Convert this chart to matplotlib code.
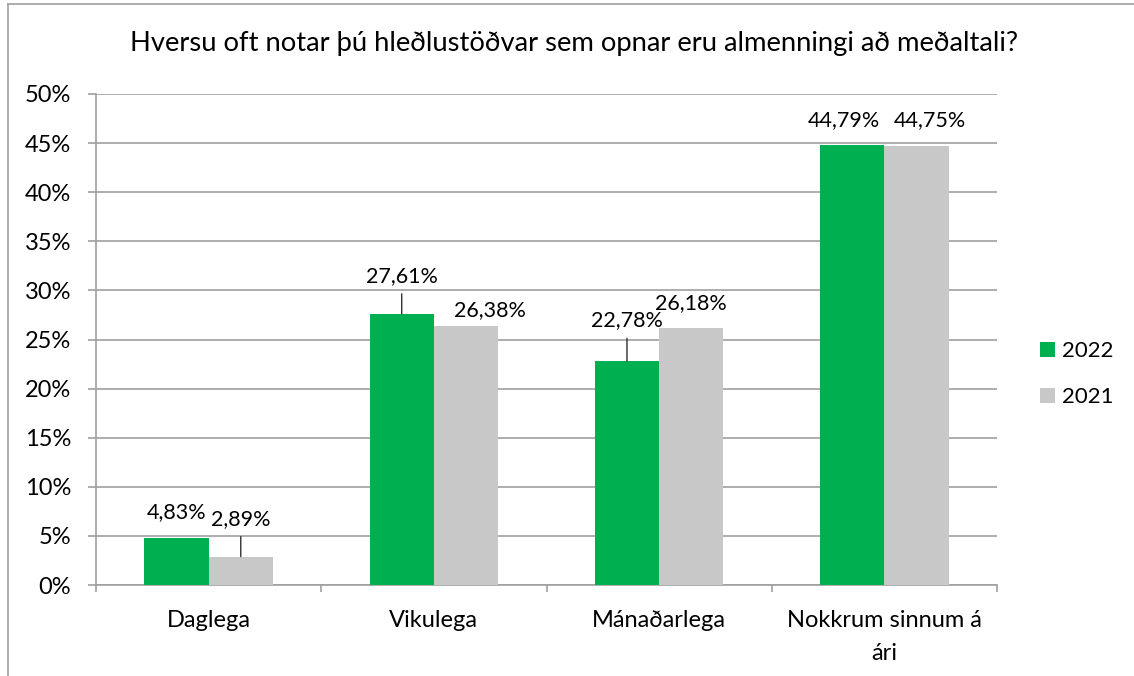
import matplotlib.pyplot as plt
import numpy as np
from matplotlib.patches import Patch
from matplotlib.lines import Line2D

# Gögn
flokkar = ["Daglega", "Vikulega", "Mánaðarlega", "Nokkrum sinnum á\nári"]
ar = ["2022", "2021"]
gildi_2022 = [4.83, 27.61, 22.78, 44.79]
gildi_2021 = [2.89, 26.38, 26.18, 44.75]
titill = "Hversu oft notar þú hleðlustöðvar sem opnar eru almenningi að meðaltali?"

litir = ["#00B050", "#C8C8C8"]
grar = "#A0A0A0"
plt.rcParams['font.family'] = ['Lato', 'DejaVu Sans']

W, H = 1134, 676
fig = plt.figure(figsize=(W / 100, H / 100), dpi=100)
ax = fig.add_axes([96 / W, 1 - 585 / H, (997 - 96) / W, (585 - 94) / H])

x = np.arange(len(flokkar))
b = 0.2855
st1 = ax.bar(x - b / 2, gildi_2022, b, color=litir[0], zorder=3)
st2 = ax.bar(x + b / 2, gildi_2021, b, color=litir[1], zorder=3)

ax.set_xlim(-0.5, len(flokkar) - 0.5)
ax.set_ylim(0, 50)
ax.set_yticks(np.arange(0, 51, 5))
ax.set_yticklabels([f"{v}%" for v in range(0, 51, 5)])
ax.yaxis.grid(True, color=grar, lw=1.2, zorder=0)
ax.set_axisbelow(True)
for s in ["top", "right"]:
    ax.spines[s].set_visible(False)
for s in ["left", "bottom"]:
    ax.spines[s].set_color(grar)
    ax.spines[s].set_linewidth(1.2)

ax.set_xticks(x)
ax.set_xticklabels(flokkar)
ax.set_xticks(np.arange(-0.5, len(flokkar)), minor=True)
ax.tick_params(axis="x", which="major", length=0, pad=18, labelsize=17)
ax.tick_params(axis="x", which="minor", length=5, color=grar, width=1.2)
ax.tick_params(axis="y", length=5.8, color=grar, width=1.2, pad=12, labelsize=17)
for t in ax.get_xticklabels():
    t.set_linespacing(1.7)

# Gagnamerki (hliðrun í pixlum; sum færð til með leiðarlínu)
hlidrun = {
    0: [(0, 25), (0, 38), (0, 41), (-8, 25)],
    1: [(0, 38), (24, 16), (0, 25), (13, 25)],
}
leidarlina = {(1, 0), (0, 1), (0, 2)}
for k, (stabs, gildi) in enumerate([(st1, gildi_2022), (st2, gildi_2021)]):
    for i, (rect, v) in enumerate(zip(stabs, gildi)):
        cx = rect.get_x() + rect.get_width() / 2
        dx, dy = hlidrun[k][i]
        ax.annotate(f"{v:.2f}%".replace(".", ","), (cx, v), xytext=(dx, dy),
                    textcoords="offset pixels", ha="center", va="center",
                    fontsize=15.5, zorder=5)
        if (k, i) in leidarlina:
            ax.annotate("", (cx, v), xytext=(0, dy - 18), textcoords="offset pixels",
                        arrowprops=dict(arrowstyle="-", color="#303030", lw=1,
                                        shrinkA=0, shrinkB=0))

fig.text(574 / W, 1 - 43 / H, titill, ha="center", va="center", fontsize=19.7)

handföng = [Patch(facecolor=c, edgecolor="none") for c in litir]
fig.legend(handföng, ar, loc="center left", bbox_to_anchor=(1040 / W, 1 - 374 / H),
           frameon=False, fontsize=16, borderpad=0, borderaxespad=0,
           handlelength=0.675, handleheight=0.675, handletextpad=0.33,
           labelspacing=1.16)

# Rammi utan um myndina
fig.add_artist(Line2D([8 / W, 1], [1 - 4 / H, 1 - 4 / H], color=grar, lw=1.2))
fig.add_artist(Line2D([8 / W, 8 / W], [0, 1 - 4 / H], color=grar, lw=1.2))

fig.savefig("out.png", dpi=100)
